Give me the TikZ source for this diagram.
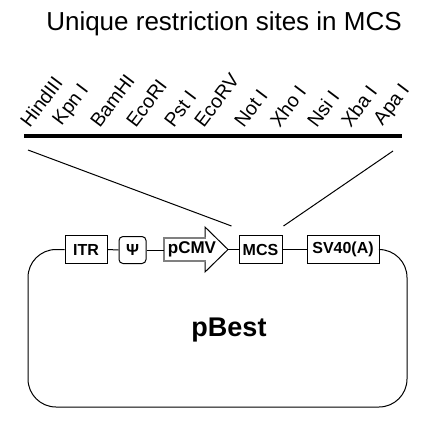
\documentclass[tikz,border=0pt]{standalone}
\usepackage{fontspec}
\setmainfont{Liberation Sans}
\begin{document}
\begin{tikzpicture}[x=1pt,y=1pt,
  box/.style={draw,line width=1pt,inner sep=0pt,font=\bfseries\fontsize{16}{16}\selectfont},
  site/.style={anchor=south west,rotate=53,inner sep=0pt,font=\fontsize{19.5}{19.5}\selectfont},
  conn/.style={line width=1pt}]
\useasboundingbox (0,0) rectangle (433,-426);
\node[font=\fontsize{26}{26}\selectfont] (title) at (224,-24) {Unique restriction sites in MCS};
% restriction site labels
\node[site] (s1) at (30,-129) {HindIII};
\node[site] (s2) at (65,-129) {Kpn I};
\node[site] (s3) at (100,-129) {BamHI};
\node[site] (s4) at (136,-129) {EcoRI};
\node[site] (s5) at (174,-129) {Pst I};
\node[site] (s6) at (204,-129) {EcoRV};
\node[site] (s7) at (244,-129) {Not I};
\node[site] (s8) at (280,-129) {Xho I};
\node[site] (s9) at (317,-129) {Nsi I};
\node[site] (s10) at (351,-129) {Xba I};
\node[site] (s11) at (386,-129) {Apa I};
\coordinate (barL) at (24,-136);
\coordinate (barR) at (402,-136);
\draw[line width=3.5pt] (barL) -- (barR);
\coordinate (dL) at (28,-150);
\coordinate (dR) at (393,-151);
% boxes
\node[box,minimum width=42pt,minimum height=28pt] (itr) at (86,-249.5) {ITR};
\node[box,rounded corners=4pt,minimum width=27pt,minimum height=27pt] (psi) at (132.5,-250) {Ψ};
\node[box,minimum width=43pt,minimum height=28pt] (mcs) at (260.5,-249.5) {MCS};
\node[box,minimum width=72pt,minimum height=28pt] (sv) at (343,-249.5) {SV40(A)};
% pCMV arrow
\coordinate (pa1) at (164,-238);
\coordinate (pa2) at (205,-238);
\coordinate (pa3) at (205,-227);
\coordinate (ptip) at (228,-249.5);
\coordinate (pa5) at (205,-272);
\coordinate (pa6) at (205,-261);
\coordinate (pa7) at (164,-261);
\draw[line width=1pt,fill=white] (pa1) -- (pa2) -- (pa3) -- (ptip) -- (pa5) -- (pa6) -- (pa7) -- cycle;
\draw[line width=2.4pt,gray,line cap=rect] (pa6) -- (pa7) -- (pa1) -- (pa2);
\node[font=\bfseries\fontsize{17}{17}\selectfont] (pcmv) at (192,-249.5) {pCMV};
% connectors
\draw[conn] (itr.east) -- (psi.west);
\draw[conn] (psi.east) -- (pa1 |- psi.east);
\draw[conn] (ptip) -- (mcs.west);
\draw[conn] (mcs.east) -- (sv.west);
\draw[conn] (dL) -- ([xshift=-7pt,yshift=9pt]mcs.north west);
\draw[conn] (dR) -- ([xshift=1pt,yshift=9pt]mcs.north east);
\draw[conn,rounded corners=28pt] (itr.west) -- (28,-249.5) -- (28,-407) -- (407,-407) -- (407,-249.5) -- (sv.east);
\node[font=\bfseries\fontsize{27}{27}\selectfont] (pbest) at (229,-330) {pBest};
\end{tikzpicture}
\end{document}
